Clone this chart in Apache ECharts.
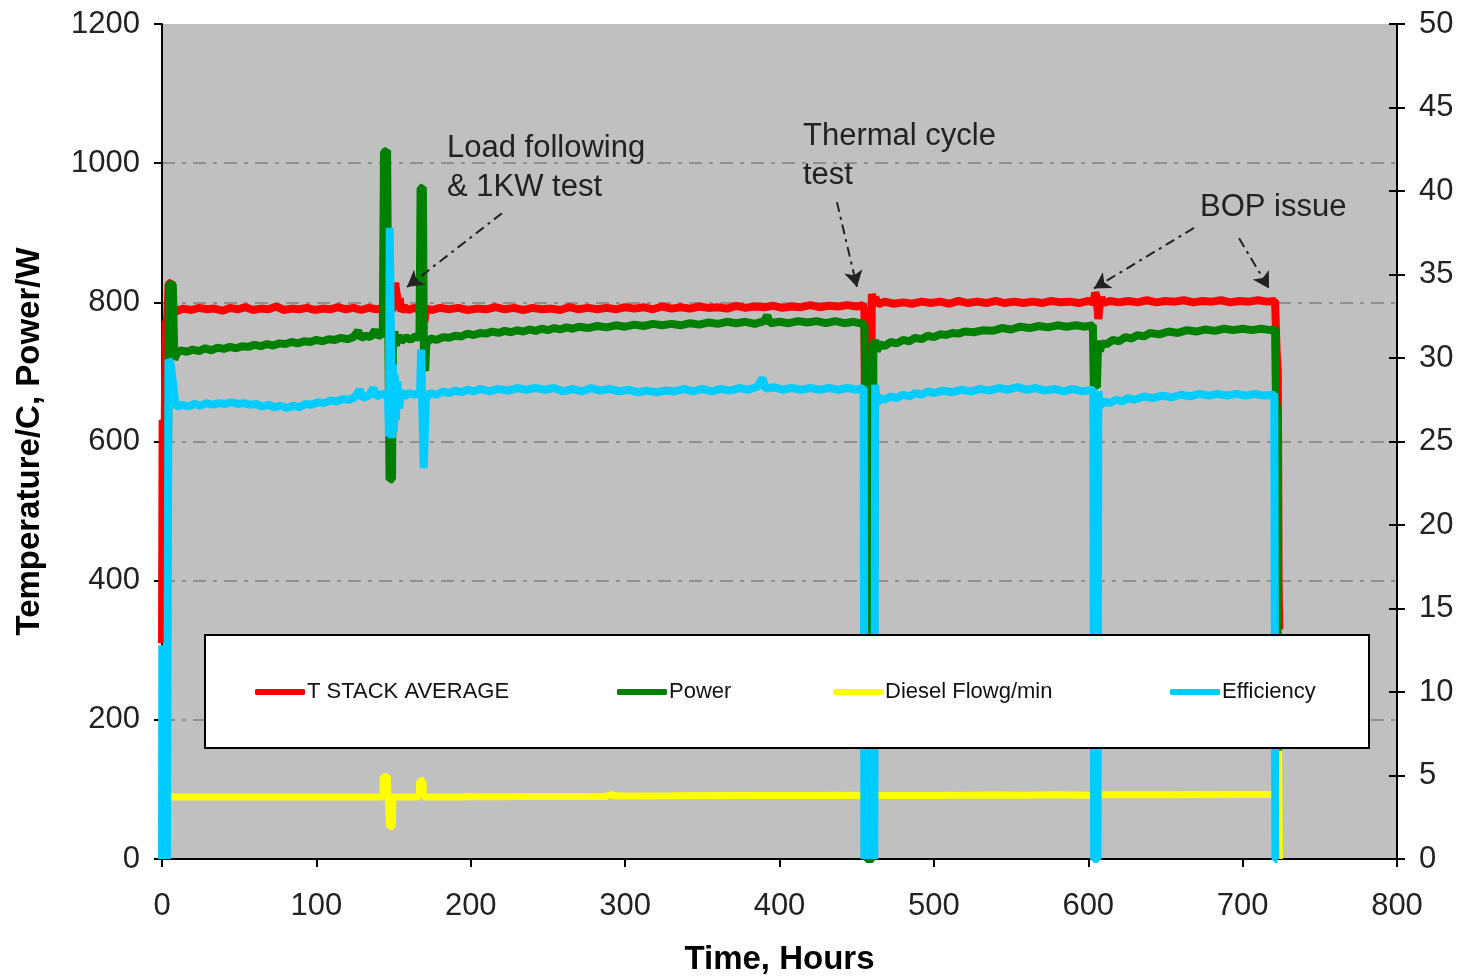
<!DOCTYPE html>
<html>
<head>
<meta charset="utf-8">
<script src="https://cdn.jsdelivr.net/npm/echarts@6/dist/echarts.min.js"></script>
<style>
html,body{margin:0;padding:0;background:#fff;}
#chart{width:1463px;height:978px;}
</style>
</head>
<body>
<div id="chart"></div>
<script>
// ---- axis ticks ----
const xTicks = {min: 0, max: 800, interval: 100};
const leftTicks = {min: 0, max: 1200, interval: 200};
const rightTicks = {min: 0, max: 50, interval: 5};

// ---- series names ----
const seriesNames = ['T STACK AVERAGE', 'Power', 'Diesel Flowg/min', 'Efficiency'];

// ---- T STACK AVERAGE (°C, left axis) [hours, value] ----
const tempData = [
[0,310],[0.4,630],[1.8,628],[2.3,770],[3.4,776],[4.3,826],[6.3,829],[7.3,795],
[9,787],[14,791],[19,789],[24,792],[29,790],[34,791],[39,788],[44,792],[49,790],[54,793],[59,789],[64,791],[69,790],[74,794],[79,789],[84,791],[89,790],[94,792],[99,789],[104,791],[109,790],[114,793],[119,790],[124,792],[129,789],[134,792],[139,790],[143,792],[146,790],
[147.5,787],[150,792],[151,828],[152,812],[153,798],[154,806],[155,787],
[157,793],[160,789],[163,792],[166,790],[169,791],[170,772],[171,791],[175,789],[180,792],[186,790],[192,792],[198,789],[204,791],[210,790],[216,793],[222,790],[228,792],[234,789],[240,792],[246,790],[252,791],[258,789],[264,793],[270,790],[276,792],[282,790],[288,792],[294,790],[300,793],[306,791],[312,793],[318,790],[324,794],[330,791],[336,793],[342,791],[348,794],[354,792],[360,793],[366,791],[372,795],[378,792],[384,794],[390,793],[396,795],[402,792],[408,794],[414,793],[420,796],[426,793],[432,795],[438,794],[444,796],[450,794],[454,796],
[455,788],[456,300],[457.5,120],[459,300],[459.8,812],[461,800],[462,807],
[464,797],[468,801],[474,798],[480,800],[486,798],[492,801],[498,799],[504,801],[510,798],[516,802],[522,799],[528,801],[534,799],[540,802],[546,799],[552,801],[558,799],[564,801],[570,799],[576,802],[582,800],[588,801],[594,799],[600,802],[603.5,800],
[604.5,814],[605.5,808],[606.5,776],[607.5,799],[608.5,807],
[610,799],[614,802],[620,800],[626,802],[632,800],[638,803],[644,800],[650,802],[656,801],[662,803],[668,800],[674,802],[680,801],[686,803],[692,800],[698,802],[704,801],[710,803],[716,801],[721,802],
[722,732],[722.8,700],[723.3,400],[723.8,330]
];

// ---- Power (W, left axis) ----
const powerData = [
[3.2,450],[3.8,545],[4.5,826],[7,826],[8,718],
[9.5,726],[12,731],[16,729],[20,732],[24,730],[28,734],[32,731],[36,735],[40,733],[44,736],[48,734],[52,737],[56,736],[60,739],[64,737],[68,740],[72,738],[76,741],[80,740],[84,743],[88,741],[92,744],[96,743],[100,746],[104,744],[108,747],[112,746],[116,749],[120,747],[124,750],[127,759],[129,749],[132,752],[135,750],[138,760],[140,751],[143,755],
[143.8,1016],[145.8,1018],[146.6,756],[147.4,545],[149,546],
[149.6,742],[150.5,758],[151.5,738],[153,752],[155,744],[158,750],[161,746],[164,751],[166.8,749],
[167.5,964],[169,965],[169.7,705],[170.5,702],
[171.2,741],[174,748],[178,746],[182,750],[186,749],[190,752],[194,751],[198,755],[202,753],[206,756],[210,755],[214,758],[218,756],[222,759],[226,757],[230,760],[234,758],[238,761],[242,759],[246,762],[250,760],[254,763],[258,761],[262,764],[266,762],[270,765],[276,763],[282,766],[288,764],[294,767],[300,765],[306,768],[312,766],[318,769],[324,767],[330,769],[336,767],[342,770],[348,768],[354,771],[360,769],[366,772],[372,770],[378,772],[384,769],[390,773],[392,781],[394,770],[400,772],[406,770],[412,773],[418,771],[424,773],[430,770],[436,773],[442,770],[448,772],[454,769],
[455,766],[455.6,680],[456.4,0],[460.2,0],[460.8,735],
[462,746],[463,730],[465,740],[468,737],[472,743],[476,741],[480,746],[484,744],[488,749],[492,747],[496,752],[500,750],[504,754],[508,753],[512,756],[516,755],[520,758],[526,757],[532,760],[538,759],[544,763],[550,761],[556,765],[562,763],[568,766],[574,764],[580,767],[586,765],[592,767],[598,765],[603,767],
[603.6,680],[605.6,678],
[606.4,745],[607.5,730],[609,741],[612,740],[616,746],[620,744],[624,750],[628,748],[632,753],[636,751],[640,756],[646,754],[652,758],[658,756],[664,760],[670,758],[676,761],[682,759],[688,762],[694,760],[700,762],[706,760],[712,762],[718,760],[721,762],
[721.6,660],[722.5,640],[723,0]
];

// ---- Diesel Flow (g/min, right axis) ----
const dieselData = [
[5.5,3.72],[30,3.72],[60,3.71],[90,3.72],[120,3.72],[143,3.72],[143.4,4.92],[146,4.92],[146.4,3.72],[147.4,1.95],[149.2,1.95],[149.6,3.72],[166.6,3.72],[167,4.68],[169,4.68],[169.4,3.72],[197,3.72],[197.4,3.9],[198,3.73],[226.5,3.73],[227,3.88],[227.6,3.74],[288.5,3.75],[289,3.92],[290,3.76],[292,3.92],[292.6,3.77],[330,3.78],[380,3.8],[420,3.8],[455,3.81],[470,3.8],[500,3.8],[520,3.82],[540,3.83],[560,3.82],[580,3.84],[600,3.82],[610,3.85],[650,3.85],[700,3.86],[721,3.86],[722.8,3.86],[723.3,6.5],[723.8,0]
];

// ---- Efficiency (%, right axis) ----
const effData = [
[0,0],[0.2,12.8],[1.2,0],[2.2,12.8],[3.2,0],[4.2,29.9],[5.5,29.7],[7,28.6],[8.5,27.4],
[10,27.05],[13,27.2],[17,27.1],[21,27.25],[25,27.15],[29,27.3],[33,27.2],[37,27.3],[41,27.25],[45,27.35],[49,27.25],[53,27.3],[57,27.2],[61,27.25],[65,27.1],[69,27.2],[73,27.05],[77,27.15],[81,27.0],[85,27.15],[89,27.05],[93,27.25],[97,27.2],[101,27.35],[105,27.3],[109,27.45],[113,27.4],[117,27.55],[121,27.5],[125,27.65],[128,28.1],[130,27.6],[134,27.75],[137,28.2],[139,27.7],[143,27.85],[146.4,27.75],
[147,25.3],[147.5,37.8],[148.5,37.8],[149,25.2],[149.6,29.6],[150.2,25.6],[150.8,29.0],[151.5,26.3],[152.4,28.6],[153.5,27.0],
[155,28.0],[157,27.7],[160,27.9],[164,27.8],[167.2,27.95],
[167.8,30.5],[169.5,23.4],[170.4,23.4],
[171,27.6],[174,27.9],[178,27.8],[182,28.0],[186,27.9],[190,28.05],[194,27.95],[198,28.1],[202,28.0],[206,28.15],[212,28.0],[218,28.15],[224,28.05],[230,28.2],[236,28.1],[242,28.2],[248,28.1],[254,28.2],[260,28.0],[266,28.15],[272,28.0],[278,28.2],[284,28.05],[290,28.15],[296,28.0],[302,28.1],[308,27.95],[314,28.05],[320,27.95],[326,28.05],[332,28.0],[338,28.15],[344,28.0],[350,28.15],[356,28.0],[362,28.15],[368,28.05],[374,28.2],[380,28.1],[386,28.3],[389,28.8],[391,28.15],[396,28.25],[402,28.1],[408,28.2],[414,28.1],[420,28.2],[426,28.1],[432,28.2],[438,28.1],[444,28.2],[450,28.1],[454.5,28.2],
[455,0],[455.8,13],[456.6,0],[457.4,13],[458.2,0],[459,13],[459.8,0],[460.6,13],[461.4,0],
[462,28.4],[463,27.3],[465,27.6],[468,27.5],[472,27.7],[476,27.6],[480,27.8],[484,27.7],[488,27.9],[492,27.8],[496,28.0],[500,27.9],[506,28.05],[512,27.95],[518,28.1],[524,28.0],[530,28.15],[536,28.05],[542,28.2],[548,28.1],[554,28.25],[560,28.1],[566,28.2],[572,28.05],[578,28.15],[584,28.0],[590,28.15],[596,28.0],[603.3,28.1],
[603.8,0],[606,0],
[606.5,28.0],[607.5,27.1],[610,27.4],[614,27.3],[618,27.5],[622,27.4],[626,27.6],[630,27.5],[636,27.7],[642,27.6],[648,27.75],[654,27.65],[660,27.8],[666,27.7],[672,27.85],[678,27.75],[684,27.85],[690,27.75],[696,27.85],[702,27.75],[708,27.85],[714,27.75],[720.5,27.8],
[721.2,0],[722.5,0]
];

// ---- annotations: text and arrows (arrows in data coords: [hours, left-axis value]) ----
const annotationTexts = ['Load following\n& 1KW test', 'Thermal cycle\ntest', 'BOP issue'];
const arrowLines = [
  [[220.2, 928], [158.7, 822]],
  [[437.2, 944], [450.2, 822]],
  [[668.5, 907], [603.7, 820]],
  [[697.7, 892], [717.1, 820]]
];

const colors = ['#ff0000', '#008000', '#ffff00', '#00ccff'];
const FONT = '"Liberation Sans", Arial, sans-serif';

const chart = echarts.init(document.getElementById('chart'), null, {renderer: 'canvas'});

function legendFor(i, left) {
  return {
    data: [seriesNames[i]], left: left, top: 681, padding: 0, z: 200,
    icon: 'roundRect', itemWidth: 50, itemHeight: 6, itemGap: 0,
    selectedMode: false,
    textStyle: {fontFamily: FONT, fontSize: 22, color: '#111', padding: [0, 0, 0, -3]}
  };
}

const option = {
  animation: false,
  backgroundColor: '#ffffff',
  grid: {left: 162, right: 66, top: 24, bottom: 119, show: true, backgroundColor: '#c0c0c0', borderWidth: 0,
         containLabel: false, outerBoundsMode: 'none'},
  xAxis: {
    type: 'value', min: xTicks.min, max: xTicks.max, interval: xTicks.interval,
    axisLine: {lineStyle: {color: '#000', width: 2}},
    axisTick: {length: 8, lineStyle: {color: '#000', width: 2}},
    axisLabel: {margin: 32, fontSize: 31, color: '#222', fontFamily: FONT, formatter: v => String(v)},
    splitLine: {show: false},
    name: 'Time, Hours', nameLocation: 'middle', nameGap: 84,
    nameTextStyle: {fontSize: 33, fontWeight: 'bold', color: '#000', fontFamily: FONT}
  },
  yAxis: [
    {
      type: 'value', position: 'left', min: leftTicks.min, max: leftTicks.max, interval: leftTicks.interval,
      axisLine: {show: true, lineStyle: {color: '#000', width: 2}},
      axisTick: {show: true, length: 8, lineStyle: {color: '#000', width: 2}},
      axisLabel: {margin: 22, fontSize: 31, color: '#222', fontFamily: FONT, formatter: v => String(v)},
      splitLine: {show: true, showMinLine: false, showMaxLine: false, lineStyle: {color: '#808080', width: 1.5, type: [13, 7, 4, 7]}},
      name: 'Temperature/C, Power/W', nameLocation: 'middle', nameGap: 116,
      nameTextStyle: {fontSize: 33, fontWeight: 'bold', color: '#000', fontFamily: FONT}
    },
    {
      type: 'value', position: 'right', min: rightTicks.min, max: rightTicks.max, interval: rightTicks.interval,
      axisLine: {show: true, lineStyle: {color: '#000', width: 2}},
      axisTick: {show: true, length: 8, lineStyle: {color: '#000', width: 2}},
      axisLabel: {margin: 22, fontSize: 31, color: '#222', fontFamily: FONT},
      splitLine: {show: false}
    },
    {
      type: 'value', position: 'right', min: rightTicks.min, max: rightTicks.max, interval: rightTicks.interval,
      axisLine: {show: false},
      axisTick: {show: true, inside: true, length: 8, lineStyle: {color: '#000', width: 2}},
      axisLabel: {show: false},
      splitLine: {show: false}
    }
  ],
  legend: [legendFor(0, 255), legendFor(1, 617), legendFor(2, 833), legendFor(3, 1170)],
  graphic: [
    {type: 'rect', left: 204, top: 634, z: 100, shape: {width: 1164, height: 113},
     style: {fill: '#ffffff', stroke: '#000', lineWidth: 2}},
    {type: 'text', left: 447, top: 129, z: 100,
     style: {text: annotationTexts[0], font: '31px ' + FONT, fill: '#222', lineHeight: 39}},
    {type: 'text', left: 803, top: 117, z: 100,
     style: {text: annotationTexts[1], font: '31px ' + FONT, fill: '#222', lineHeight: 39}},
    {type: 'text', left: 1200, top: 192, z: 100,
     style: {text: annotationTexts[2], font: '31px ' + FONT, fill: '#222'}}
  ],
  series: [
    {
      name: seriesNames[0], type: 'line', yAxisIndex: 0, data: tempData, showSymbol: false, symbol: 'none',
      lineStyle: {color: colors[0], width: 8}, itemStyle: {color: colors[0]},
      markLine: {
        silent: true, symbol: ['none', 'arrow'], symbolSize: [14, 16],
        label: {show: false},
        lineStyle: {color: '#222', width: 2, type: [10, 5, 3, 5]},
        data: arrowLines.map(a => [{coord: a[0]}, {coord: a[1]}])
      }
    },
    {
      name: seriesNames[1], type: 'line', yAxisIndex: 0, data: powerData, showSymbol: false, symbol: 'none',
      lineStyle: {color: colors[1], width: 8}, itemStyle: {color: colors[1]}
    },
    {
      name: seriesNames[2], type: 'line', yAxisIndex: 1, data: dieselData, showSymbol: false, symbol: 'none',
      lineStyle: {color: colors[2], width: 7}, itemStyle: {color: colors[2]}
    },
    {
      name: seriesNames[3], type: 'line', yAxisIndex: 1, data: effData, showSymbol: false, symbol: 'none',
      lineStyle: {color: colors[3], width: 8}, itemStyle: {color: colors[3]}
    }
  ]
};
chart.setOption(option);
</script>
</body>
</html>
